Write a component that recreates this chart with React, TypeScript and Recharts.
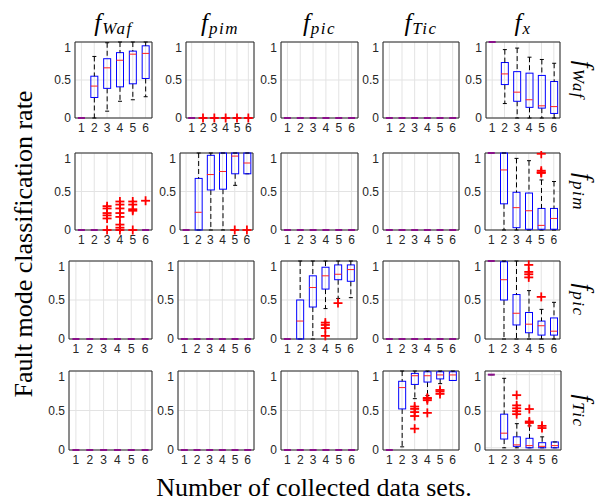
import React from 'react';
import {
  ComposedChart,
  Bar,
  Scatter,
  XAxis,
  YAxis,
  CartesianGrid,
  ReferenceArea,
} from 'recharts';

// one box = [lower whisker, q1, median, q3, upper whisker]
type Stat = [number, number, number, number, number];
// outlier = [data set count, value]
type Pt = [number, number];

const groups = ['1', '2', '3', '4', '5', '6'];
const xTicks = [1, 2, 3, 4, 5, 6];
const yTicks = [0, 0.5, 1];
const colNames = ['Waf', 'pim', 'pic', 'Tic', 'x'];
const rowNames = ['Waf', 'pim', 'pic', 'Tic'];

const allZero: Stat[] = [
  [0, 0, 0, 0, 0],
  [0, 0, 0, 0, 0],
  [0, 0, 0, 0, 0],
  [0, 0, 0, 0, 0],
  [0, 0, 0, 0, 0],
  [0, 0, 0, 0, 0],
];

// true fault f_Waf
const wafWaf: Stat[] = [
  [0, 0, 0, 0, 0],
  [0, 0.27, 0.42, 0.55, 0.81],
  [0.09, 0.39, 0.66, 0.78, 0.99],
  [0.22, 0.41, 0.76, 0.86, 1],
  [0.24, 0.45, 0.84, 0.88, 1],
  [0.28, 0.52, 0.85, 0.95, 1],
];
const wafPimOut: Pt[] = [[2, 0], [3, 0], [4, 0], [5, 0], [6, 0]];
const wafX: Stat[] = [
  [1, 1, 1, 1, 1],
  [0.19, 0.44, 0.58, 0.73, 0.9],
  [0, 0.22, 0.34, 0.61, 0.92],
  [0, 0.14, 0.24, 0.59, 0.8],
  [0, 0.13, 0.16, 0.56, 0.77],
  [0, 0.06, 0.15, 0.48, 0.72],
];

// true fault f_pim
const pimWafOut: Pt[] = [
  [3, 0.31], [3, 0.28], [3, 0.22], [3, 0.19], [3, 0.15], [3, 0],
  [4, 0.37], [4, 0.33], [4, 0.28], [4, 0.22], [4, 0.17], [4, 0.07], [4, 0.03], [4, 0],
  [5, 0.37], [5, 0.33], [5, 0.27], [5, 0.25], [5, 0],
  [6, 0.38],
];
const pimPim: Stat[] = [
  [0, 0, 0, 0, 0],
  [0, 0, 0.23, 0.67, 1],
  [0, 0.52, 0.72, 0.97, 1],
  [0, 0.53, 0.76, 1, 1],
  [0.58, 0.73, 0.96, 1, 1],
  [0.73, 0.73, 0.87, 1, 1],
];
const pimPimOut: Pt[] = [[5, 0], [6, 0]];
const pimX: Stat[] = [
  [1, 1, 1, 1, 1],
  [0, 0.34, 0.78, 1, 1],
  [0, 0.03, 0.29, 0.49, 0.93],
  [0, 0.01, 0.25, 0.48, 0.9],
  [0, 0.01, 0.06, 0.28, 0.65],
  [0, 0.01, 0.15, 0.28, 0.63],
];
const pimXOut: Pt[] = [[5, 0.99], [5, 0.77], [5, 0.75], [5, 0.74]];

// true fault f_pic
const picPic: Stat[] = [
  [0, 0, 0, 0, 0],
  [0, 0, 0.23, 0.5, 1],
  [0, 0.41, 0.66, 0.81, 1],
  [0.39, 0.64, 0.81, 0.92, 1],
  [0.52, 0.76, 0.83, 0.95, 1],
  [0.53, 0.74, 0.89, 0.95, 1],
];
const picPicOut: Pt[] = [[4, 0.21], [4, 0.18], [4, 0.14], [4, 0.04], [5, 0.46]];
const picX: Stat[] = [
  [1, 1, 1, 1, 1],
  [0, 0.5, 0.76, 0.99, 1],
  [0, 0.18, 0.33, 0.57, 1],
  [0, 0.08, 0.19, 0.34, 0.62],
  [0, 0.05, 0.17, 0.23, 0.38],
  [0, 0.05, 0.1, 0.27, 0.47],
];
const picXOut: Pt[] = [[4, 0.95], [4, 0.86], [4, 0.83], [4, 0.79], [5, 0.54]];

// true fault f_Tic
const ticTic: Stat[] = [
  [0, 0, 0, 0, 0],
  [0.04, 0.52, 0.79, 0.87, 1],
  [0.65, 0.83, 0.94, 0.97, 1],
  [0.69, 0.86, 0.94, 0.99, 1],
  [0.84, 0.9, 0.95, 0.99, 1],
  [0.88, 0.88, 0.95, 0.99, 1],
];
const ticTicOut: Pt[] = [
  [3, 0.55], [3, 0.52], [3, 0.48], [3, 0.43], [3, 0.27],
  [4, 0.66], [4, 0.65], [4, 0.63], [4, 0.47],
  [5, 0.76], [5, 0.74], [5, 0.71],
];
const ticX: Stat[] = [
  [1, 1, 1, 1, 1],
  [0, 0.12, 0.2, 0.46, 0.95],
  [0, 0.02, 0.04, 0.15, 0.33],
  [0, 0, 0.03, 0.13, 0.3],
  [0, 0, 0.02, 0.07, 0.15],
  [0, 0, 0.03, 0.08, 0.08],
];
const ticXOut: Pt[] = [
  [3, 0.72], [3, 0.58], [3, 0.54], [3, 0.5], [3, 0.46],
  [4, 0.53], [4, 0.36], [4, 0.34],
  [5, 0.3], [5, 0.27],
];

type Cell = { stats: Stat[]; out: Pt[]; domain: [number, number] };
const d01: [number, number] = [0, 1];

const cells: Cell[][] = [
  [
    { stats: wafWaf, out: [], domain: d01 },
    { stats: allZero, out: wafPimOut, domain: d01 },
    { stats: allZero, out: [], domain: d01 },
    { stats: allZero, out: [], domain: d01 },
    { stats: wafX, out: [], domain: d01 },
  ],
  [
    { stats: allZero, out: pimWafOut, domain: d01 },
    { stats: pimPim, out: pimPimOut, domain: d01 },
    { stats: allZero, out: [], domain: d01 },
    { stats: allZero, out: [], domain: d01 },
    { stats: pimX, out: pimXOut, domain: d01 },
  ],
  [
    { stats: allZero, out: [], domain: d01 },
    { stats: allZero, out: [], domain: d01 },
    { stats: picPic, out: picPicOut, domain: d01 },
    { stats: allZero, out: [], domain: d01 },
    { stats: picX, out: picXOut, domain: d01 },
  ],
  [
    { stats: allZero, out: [], domain: d01 },
    { stats: allZero, out: [], domain: d01 },
    { stats: allZero, out: [], domain: d01 },
    { stats: ticTic, out: ticTicOut, domain: d01 },
    { stats: ticX, out: ticXOut, domain: [-0.03, 1.05] },
  ],
];

// plot-area rectangles [left, right] per row/column and [top, bottom] per row
const colSpans = [
  [[75, 152], [186, 254], [281, 358], [383, 459], [486, 560]],
  [[75, 152], [180, 253], [281, 358], [383, 459], [485, 560]],
  [[69, 152], [178, 254], [281, 357], [383, 459], [485, 560]],
  [[69, 152], [178, 254], [281, 358], [383, 459], [485, 561]],
];
const rowSpans = [[42, 118], [153, 230], [261, 339], [371, 450]];

const sans = '"Liberation Sans", Arial, sans-serif';
const serif = '"Liberation Serif", "Times New Roman", serif';
const tickStyle = { fontSize: 12, fill: '#262626', fontFamily: sans };

const LowWhisker = (p: any) => {
  const { x, y, width, height } = p;
  if (height == null || isNaN(height)) return null;
  const cx = x + width / 2;
  return (
    <g>
      {height > 0 && (
        <line x1={cx} x2={cx} y1={y} y2={y + height} stroke="#000" strokeDasharray="5 3" />
      )}
      <line x1={cx - 2} x2={cx + 2} y1={y + height} y2={y + height} stroke="#000" />
    </g>
  );
};

const HighWhisker = (p: any) => {
  const { x, y, width, height } = p;
  if (height == null || isNaN(height)) return null;
  const cx = x + width / 2;
  return (
    <g>
      {height > 0 && (
        <line x1={cx} x2={cx} y1={y} y2={y + height} stroke="#000" strokeDasharray="5 3" />
      )}
      <line x1={cx - 2} x2={cx + 2} y1={y} y2={y} stroke="#000" />
    </g>
  );
};

const BoxShape = (p: any) => {
  const { x, y, width, height } = p;
  if (!height || height <= 0) return null;
  return <rect x={x} y={y} width={width} height={height} fill="none" stroke="#0000ff" />;
};

const Median = (p: any) => {
  const { cx, cy, payload } = p;
  if (cx == null || cy == null) return null;
  const flat = payload.q1 === payload.q3;
  return (
    <line
      x1={cx - 3.5}
      x2={cx + 3.5}
      y1={cy}
      y2={cy}
      stroke={flat ? '#8a108a' : '#ff2020'}
      strokeWidth={flat ? 2 : 1}
    />
  );
};

const Plus = (p: any) => {
  const { cx, cy } = p;
  if (cx == null || cy == null) return null;
  return (
    <g stroke="#ff0000" strokeWidth={1.8}>
      <line x1={cx - 4.5} x2={cx + 4.5} y1={cy} y2={cy} />
      <line x1={cx} x2={cx} y1={cy - 4.5} y2={cy + 4.5} />
    </g>
  );
};

const YW = 34;
const XH = 24;

function Panel({ cell, span, rowSpan }: { cell: Cell; span: number[]; rowSpan: number[] }) {
  const [l, r] = span;
  const [t, b] = rowSpan;
  const w = r - l;
  const h = b - t;
  const data = cell.stats.map((s, i) => ({
    k: groups[i],
    x: i + 1,
    base: s[0],
    lw: s[1] - s[0],
    box: s[3] - s[1],
    uw: s[4] - s[3],
    med: s[2],
    q1: s[1],
    q3: s[3],
  }));
  const outData = cell.out.map(([x, y]) => ({ x, y }));
  return (
    <div style={{ position: 'absolute', left: l - YW, top: t - 2 }}>
      <ComposedChart
        width={w + YW + 2}
        height={h + XH + 2}
        data={data}
        margin={{ top: 2, right: 2, bottom: 0, left: 0 }}
      >
        <CartesianGrid xAxisId="num" yAxisId={0} stroke="#e3e3e3" />
        <XAxis xAxisId="cat" type="category" dataKey="k" hide height={0} />
        <XAxis
          xAxisId="num"
          type="number"
          dataKey="x"
          domain={[0.5, 6.5]}
          ticks={xTicks}
          interval={0}
          height={XH}
          tickLine={false}
          axisLine={false}
          tickSize={0}
          tickMargin={5}
          tick={tickStyle}
        />
        <YAxis
          yAxisId={0}
          type="number"
          domain={cell.domain}
          ticks={yTicks}
          width={YW}
          tickLine={false}
          axisLine={false}
          tickSize={0}
          tickMargin={4}
          tick={tickStyle}
          tickFormatter={(v: number) => String(v)}
        />
        <ReferenceArea
          xAxisId="num"
          yAxisId={0}
          x1={0.5}
          x2={6.5}
          y1={cell.domain[0]}
          y2={cell.domain[1]}
          fill="none"
          stroke="#262626"
          strokeWidth={1}
          ifOverflow="visible"
        />
        <Bar xAxisId="cat" yAxisId={0} stackId="s" dataKey="base" fill="none" barSize={7} isAnimationActive={false} />
        <Bar xAxisId="cat" yAxisId={0} stackId="s" dataKey="lw" shape={LowWhisker} barSize={7} isAnimationActive={false} />
        <Bar xAxisId="cat" yAxisId={0} stackId="s" dataKey="box" shape={BoxShape} barSize={7} isAnimationActive={false} />
        <Bar xAxisId="cat" yAxisId={0} stackId="s" dataKey="uw" shape={HighWhisker} barSize={7} isAnimationActive={false} />
        <Scatter xAxisId="num" yAxisId={0} dataKey="med" shape={Median} isAnimationActive={false} />
        <Scatter xAxisId="num" yAxisId={0} data={outData} dataKey="y" shape={Plus} isAnimationActive={false} />
      </ComposedChart>
    </div>
  );
}

function FLabel({ sub }: { sub: string }) {
  return (
    <span style={{ fontFamily: serif, fontStyle: 'italic', whiteSpace: 'nowrap' }}>
      <span style={{ fontSize: 25 }}>f</span>
      <span style={{ fontSize: 17, position: 'relative', top: 3, letterSpacing: 1.5, marginLeft: 1 }}>
        {sub}
      </span>
    </span>
  );
}

export default function App() {
  const topCenters = colSpans[0].map(([l, r]) => (l + r) / 2);
  return (
    <div
      style={{
        position: 'absolute',
        left: 0,
        top: 0,
        width: 598,
        height: 503,
        background: '#fff',
        overflow: 'hidden',
      }}
    >
      {cells.map((row, ri) =>
        row.map((cell, ci) => (
          <Panel key={`${ri}-${ci}`} cell={cell} span={colSpans[ri][ci]} rowSpan={rowSpans[ri]} />
        )),
      )}
      {colNames.map((n, i) => (
        <div
          key={n}
          style={{
            position: 'absolute',
            left: topCenters[i] - 60,
            width: 120,
            top: 8,
            lineHeight: '30px',
            textAlign: 'center',
            color: '#000',
          }}
        >
          <FLabel sub={n} />
        </div>
      ))}
      {rowNames.map((n, i) => (
        <div
          key={n}
          style={{
            position: 'absolute',
            left: 584 - 60,
            width: 120,
            top: (rowSpans[i][0] + rowSpans[i][1]) / 2 - 15,
            height: 30,
            lineHeight: '30px',
            textAlign: 'center',
            transform: 'rotate(90deg)',
            color: '#000',
          }}
        >
          <FLabel sub={n} />
        </div>
      ))}
      <div
        style={{
          position: 'absolute',
          left: 24 - 200,
          top: 244 - 15,
          width: 400,
          height: 30,
          lineHeight: '30px',
          textAlign: 'center',
          transform: 'rotate(-90deg)',
          fontFamily: serif,
          fontSize: 26,
          color: '#000',
          whiteSpace: 'nowrap',
        }}
      >
        Fault mode classification rate
      </div>
      <div
        style={{
          position: 'absolute',
          left: 314 - 200,
          top: 473,
          width: 400,
          lineHeight: '30px',
          textAlign: 'center',
          fontFamily: serif,
          fontSize: 26,
          color: '#000',
          whiteSpace: 'nowrap',
        }}
      >
        Number of collected data sets.
      </div>
    </div>
  );
}
